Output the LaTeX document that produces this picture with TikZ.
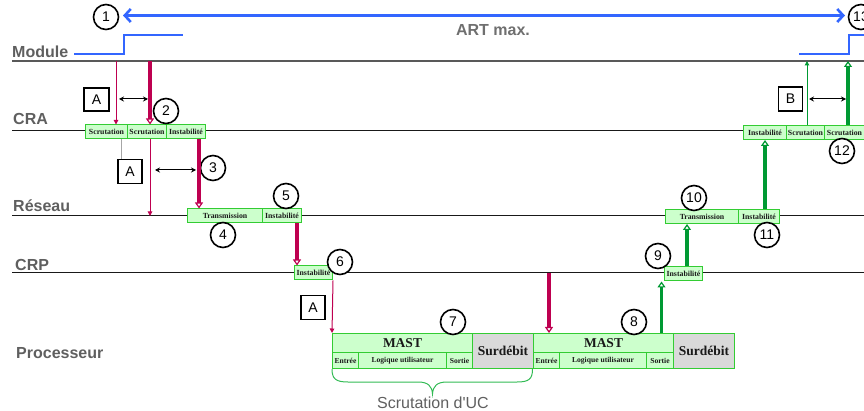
\documentclass[tikz,border=0pt]{standalone}
\usepackage{fontspec}
\setmainfont{Liberation Serif}
\setsansfont{Liberation Sans}
\usetikzlibrary{arrows.meta}
\definecolor{cellfill}{HTML}{CCFFCC}
\definecolor{cellline}{HTML}{33CC33}
\definecolor{surdfill}{HTML}{D9D9D9}
\definecolor{redc}{RGB}{190,0,80}
\definecolor{greenc}{RGB}{0,153,51}
\definecolor{lanegray}{HTML}{5F5F5F}
\definecolor{bluec}{HTML}{3366FF}
\definecolor{bracec}{HTML}{33BB55}
\begin{document}
\begin{tikzpicture}[x=1pt,y=-1pt,
  lanelabel/.style={font=\sffamily\bfseries\fontsize{16}{18}\selectfont, text=lanegray, anchor=base west, inner sep=0},
  lane/.style={line width=1pt, draw=black!90},
  cell/.style={draw=cellline, fill=cellfill, line width=1pt, inner sep=0, minimum height=14pt, anchor=west, font=\bfseries\fontsize{7.8}{8}\selectfont, text=black!90},
  pcell/.style={draw=cellline, fill=cellfill, line width=1pt, inner sep=0, anchor=north west, text=black!90},
  small/.style={font=\bfseries\fontsize{7.6}{8}\selectfont},
  big/.style={font=\bfseries\fontsize{13.5}{14}\selectfont},
  num/.style={circle, draw=black, line width=1.6pt, fill=white, minimum size=25pt, inner sep=0, font=\sffamily\fontsize{14}{16}\selectfont},
  abox/.style={draw=black, line width=1.5pt, fill=white, inner sep=0, minimum width=24pt, minimum height=24pt, font=\sffamily\fontsize{14}{16}\selectfont},
  redthin/.style={draw=redc, line width=1pt, -{Triangle[length=4.5pt, width=4.5pt]}},
  redthick/.style={draw=redc, line width=3.5pt, -{Triangle[open, length=6pt, width=8pt, line width=1.2pt, fill=white]}},
  greenthin/.style={draw=greenc, line width=1pt, -{Triangle[length=4.5pt, width=4.5pt]}},
  greenthick/.style={draw=greenc, line width=3.5pt, -{Triangle[open, length=6pt, width=8pt, line width=1.2pt, fill=white]}},
  dbl/.style={draw=black, line width=1pt, {Stealth[length=5pt,width=5pt]}-{Stealth[length=5pt,width=5pt]}},
  blueline/.style={draw=bluec, line width=1.8pt},
]
\useasboundingbox (0,0) rectangle (864,411);

% lanes
\coordinate (mL) at (12,61);  \coordinate (mR) at (864,61);
\coordinate (aL) at (12,131); \coordinate (aR) at (864,131);
\coordinate (rL) at (12,216); \coordinate (rR) at (864,216);
\coordinate (cL) at (12,273); \coordinate (cR) at (864,273);
\draw[lane, draw=black!65, line width=1.6pt] (mL) -- (mR);
\draw[lane] (aL) -- (aR);
\draw[lane] (rL) -- (rR);
\draw[lane] (cL) -- (cR);

\node[lanelabel] (lmod) at (12,58) {Module};
\node[lanelabel] (lcra) at (13,125) {CRA};
\node[lanelabel] (lres) at (13,212) {Réseau};
\node[lanelabel] (lcrp) at (15,271) {CRP};
\node[lanelabel] (lproc) at (16,358) {Processeur};

% blue
\coordinate (bl1) at (74,54); \coordinate (bl2) at (124,35); \coordinate (bl3) at (183,35);
\draw[blueline] (bl1) -| (bl2) -- (bl3);
\coordinate (br1) at (799,54); \coordinate (br2) at (849,35); \coordinate (br3) at (864,35);
\draw[blueline] (br1) -| (br2) -- (br3);
\node[num] (n1) at (106,17) {1};
\node[num] (n13) at (861,17) {13};
\coordinate (artL) at (123,15.5); \coordinate (artR) at (845,15.5);
\draw[draw=bluec, line width=2.6pt, {Straight Barb[length=6pt,width=13pt]}-{Straight Barb[length=6pt,width=13pt]}] (artL) -- (artR);
\node[font=\sffamily\bfseries\fontsize{16}{18}\selectfont, text=lanegray!90] (art) at (493,30) {ART max.};

% CRA cells left
\node[cell, minimum width=42pt] (scr1) at (85,132) {Scrutation};
\node[cell, minimum width=39pt] (scr2) at (127,132) {Scrutation};
\node[cell, minimum width=39pt] (inst1) at (166,132) {Instabilité};
% Reseau cells left
\node[cell, minimum width=75pt] (trans1) at (187,216) {Transmission};
\node[cell, minimum width=39pt] (inst2) at (262,216) {Instabilité};
% CRP cell left
\node[cell, minimum width=38pt] (inst3) at (294,273) {Instabilité};

% processor
\node[pcell, big, minimum width=140pt, minimum height=19pt] (mast1) at (332,333) {MAST};
\node[pcell, small, minimum width=26pt, minimum height=16pt] (ent1) at (332,352) {Entrée};
\node[pcell, small, minimum width=88pt, minimum height=16pt] (log1) at (358,352) {Logique utilisateur};
\node[pcell, small, minimum width=26pt, minimum height=16pt] (sor1) at (446,352) {Sortie};
\node[pcell, big, fill=surdfill, minimum width=61pt, minimum height=35pt] (surd1) at (472,333) {Surdébit};
\node[pcell, big, minimum width=140pt, minimum height=19pt] (mast2) at (533,333) {MAST};
\node[pcell, small, minimum width=26pt, minimum height=16pt] (ent2) at (533,352) {Entrée};
\node[pcell, small, minimum width=87pt, minimum height=16pt] (log2) at (559,352) {Logique utilisateur};
\node[pcell, small, minimum width=27pt, minimum height=16pt] (sor2) at (646,352) {Sortie};
\node[pcell, big, fill=surdfill, minimum width=61pt, minimum height=35pt] (surd2) at (673,333) {Surdébit};

% right side cells
\node[cell, minimum width=38pt] (inst4) at (664,274) {Instabilité};
\node[cell, minimum width=73pt] (trans2) at (665,216.5) {Transmission};
\node[cell, minimum width=41pt] (inst5) at (738,216.5) {Instabilité};
\node[cell, minimum width=43pt] (inst6) at (743,132.5) {Instabilité};
\node[cell, minimum width=38pt] (scr3) at (786,132.5) {Scrutation};
\node[cell, minimum width=40pt] (scr4) at (824,132.5) {Scrutation};

% A / B boxes
\node[abox, minimum width=25pt, minimum height=23pt] (a1) at (96.5,99.5) {A};
\node[abox] (a2) at (130,171.5) {A};
\node[abox] (a3) at (313,307.5) {A};
\node[abox] (b1) at (790.5,99) {B};

% numbered circles
\node[num] (n2) at (166,111) {2};
\node[num] (n3) at (213,168) {3};
\node[num] (n4) at (223,235) {4};
\node[num] (n5) at (286,196) {5};
\node[num] (n6) at (340,262) {6};
\node[num] (n7) at (453,322) {7};
\node[num] (n8) at (634,322) {8};
\node[num] (n9) at (658,256) {9};
\node[num] (n10) at (694,198) {10};
\node[num] (n11) at (767,235) {11};
\node[num] (n12) at (842,151) {12};

% arrows x positions
\coordinate (xa) at (116,0);
\coordinate (xb) at (150,0);
\coordinate (xc) at (199,0);
\coordinate (xd) at (297,0);
\coordinate (xe) at (549,0);
\coordinate (xf) at (661.5,0);
\coordinate (xg) at (687,0);
\coordinate (xh) at (765,0);
\coordinate (xi) at (807,0);
\coordinate (xj) at (848,0);
\coordinate (xk) at (121,0);

\draw[redthin] (xa |- mL) -- (xa |- scr1.north);
\draw[redthick] (xb |- mL) -- (xb |- scr2.north);
\draw[redthin] (xb |- scr2.south) -- (xb |- rL);
\draw[draw=black!35, line width=0.8pt] (xk |- scr1.south) -- (xk |- a2.north);
\draw[redthick] (xc |- inst1.south) -- (xc |- trans1.north);
\draw[redthick] (xd |- inst2.south) -- (xd |- inst3.north);
\draw[redthin] (inst3.south east) -- (mast1.north west);
\draw[redthick] (xe |- cL) -- (xe |- mast2.north);
\draw[greenthick] (xf |- mast2.north) -- (xf |- inst4.south);
\draw[greenthick] (xg |- inst4.north) -- (xg |- trans2.south);
\draw[greenthick] (xh |- inst5.north) -- (xh |- inst6.south);
\draw[greenthin] (xi |- scr3.north) -- (xi |- mL);
\draw[greenthick] (xj |- scr4.north) -- (xj |- mL);

% double arrows
\coordinate (d1s) at (119,99); \coordinate (d1e) at (148,99);
\coordinate (d2s) at (155,170); \coordinate (d2e) at (196,170);
\coordinate (d3s) at (809,99); \coordinate (d3e) at (846,99);
\draw[dbl] (d1s) -- (d1e);
\draw[dbl] (d2s) -- (d2e);
\draw[dbl] (d3s) -- (d3e);

% brace
\draw[draw=bracec, line width=1pt]
  (332,369) .. controls (332,379) and (336,382) .. (348,382)
  -- (418,382) .. controls (428,382) and (432,386) .. (432.5,394)
  .. controls (433,386) and (437,382) .. (447,382)
  -- (517,382) .. controls (529,382) and (532.5,379) .. (532.5,369);
\node[font=\sffamily\fontsize{16}{18}\selectfont\addfontfeature{Ligatures=TeXOff}, text=lanegray, anchor=base] (uc) at (433,408) {Scrutation d'UC};
\end{tikzpicture}
\end{document}
